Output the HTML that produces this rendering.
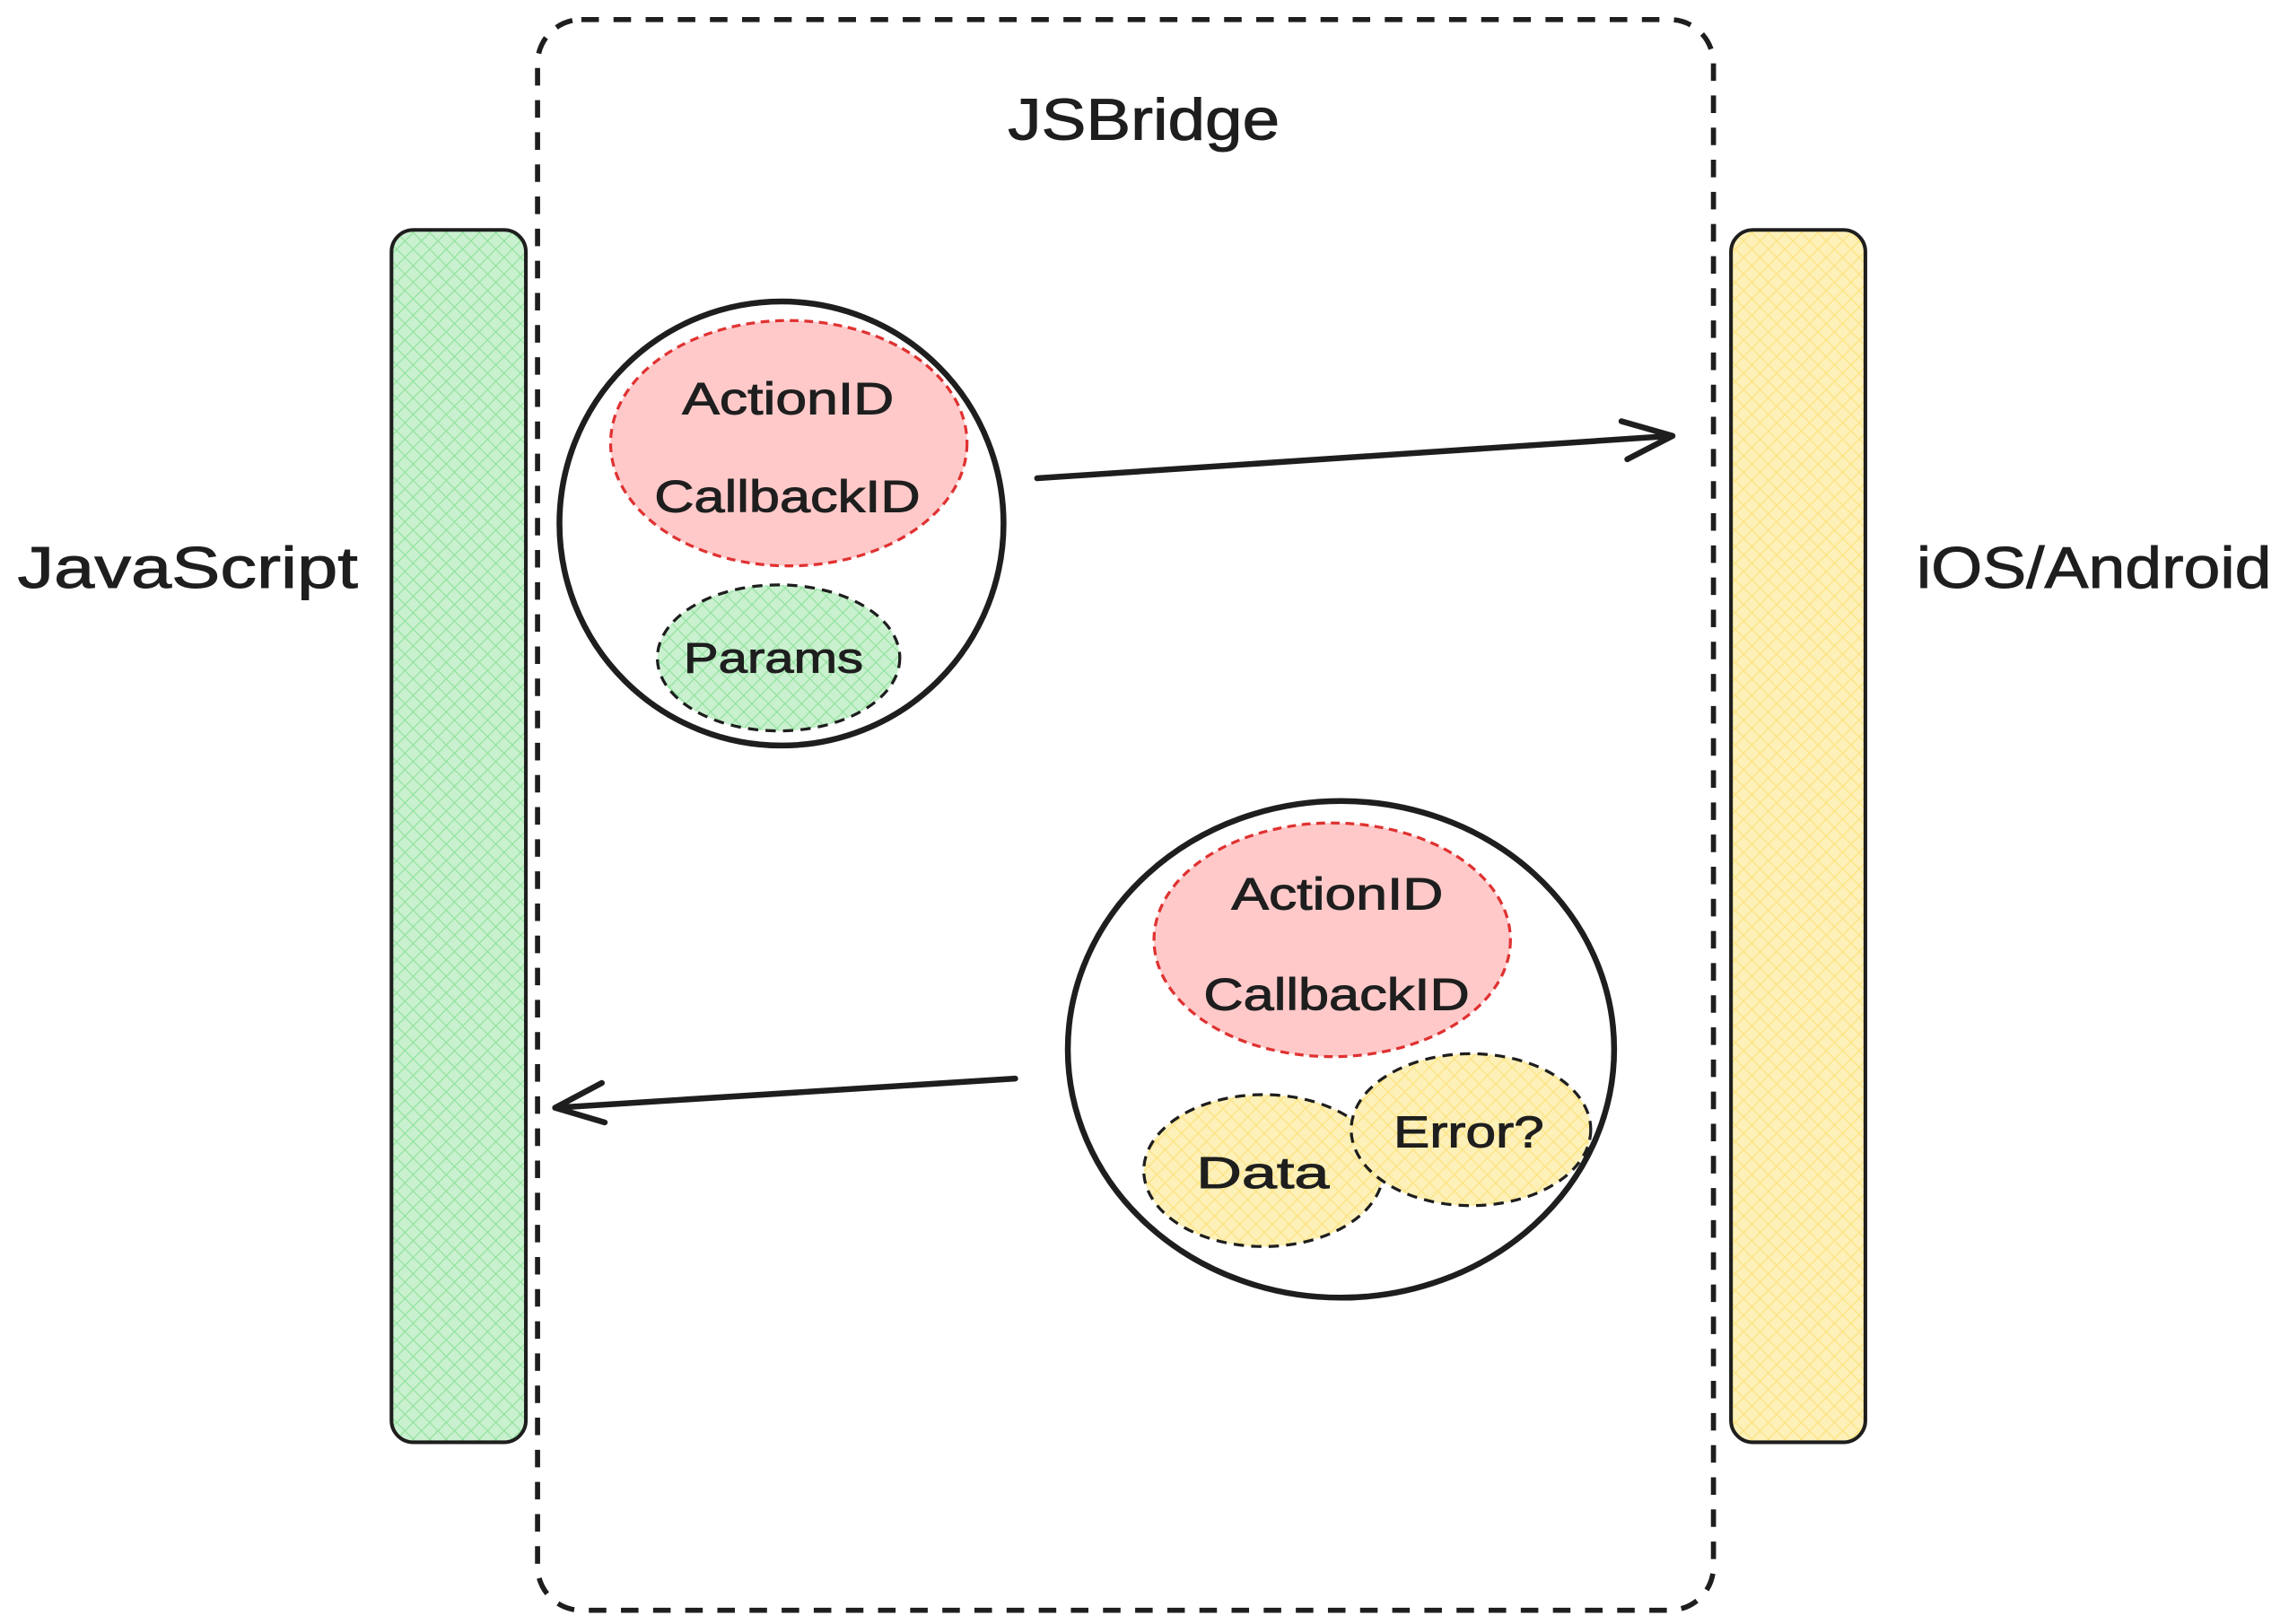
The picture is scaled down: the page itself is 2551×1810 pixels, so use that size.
<!DOCTYPE html>
<html><head><meta charset="utf-8"><style>
html,body{margin:0;padding:0;background:#fff;}
svg{display:block;}
text{font-family:"Liberation Sans","DejaVu Sans",sans-serif;fill:#1e1e1e;stroke:#1e1e1e;stroke-width:0.6;}
</style></head><body>
<svg width="2551" height="1810" viewBox="0 0 1567 1111" xmlns="http://www.w3.org/2000/svg">
<defs>
<pattern id="hg" width="8" height="8" patternUnits="userSpaceOnUse" patternTransform="rotate(45)">
<rect width="8" height="8" fill="#c9f0cf"/><path d="M0 0V8M0 0H8" stroke="#8ee29a" stroke-width="1.4"/></pattern>
<pattern id="hy" width="8" height="8" patternUnits="userSpaceOnUse" patternTransform="rotate(45)">
<rect width="8" height="8" fill="#fdf0b8"/><path d="M0 0V8M0 0H8" stroke="#fde27a" stroke-width="1.4"/></pattern>
</defs>
<rect x="368" y="13" width="805" height="1089" rx="30" fill="none" stroke="#1e1e1e" stroke-width="3.5" stroke-dasharray="12 10"/>
<text x="690" y="95" font-size="40" textLength="186" lengthAdjust="spacingAndGlyphs">JSBridge</text>
<rect x="268" y="157" width="92" height="830" rx="15" fill="url(#hg)" stroke="#1e1e1e" stroke-width="2.5"/>
<rect x="1185" y="157" width="92" height="830" rx="15" fill="url(#hy)" stroke="#1e1e1e" stroke-width="2.5"/>
<text x="12" y="402" font-size="40" textLength="233" lengthAdjust="spacingAndGlyphs">JavaScript</text>
<text x="1312" y="402" font-size="40" textLength="243" lengthAdjust="spacingAndGlyphs">iOS/Android</text>
<ellipse cx="535" cy="358" rx="152" ry="152" fill="#fff" stroke="#1e1e1e" stroke-width="4"/>
<ellipse cx="540" cy="303" rx="122" ry="84" fill="#ffc9c9" stroke="#e03131" stroke-width="2" stroke-dasharray="6 4"/>
<text x="467" y="283" font-size="31" textLength="145" lengthAdjust="spacingAndGlyphs">ActionID</text>
<text x="448" y="350" font-size="31" textLength="182" lengthAdjust="spacingAndGlyphs">CallbackID</text>
<ellipse cx="533" cy="450" rx="83" ry="50" fill="url(#hg)" stroke="#1e1e1e" stroke-width="2" stroke-dasharray="7 5"/>
<text x="468" y="460" font-size="29" textLength="123" lengthAdjust="spacingAndGlyphs">Params</text>
<path d="M710 327L1145 298M1110 288L1145 298L1114 314" fill="none" stroke="#1e1e1e" stroke-width="4" stroke-linecap="round" stroke-linejoin="round"/>
<ellipse cx="918" cy="718" rx="187" ry="170" fill="#fff" stroke="#1e1e1e" stroke-width="4"/>
<ellipse cx="912" cy="643" rx="122" ry="80" fill="#ffc9c9" stroke="#e03131" stroke-width="2" stroke-dasharray="6 4"/>
<text x="843" y="622" font-size="31" textLength="145" lengthAdjust="spacingAndGlyphs">ActionID</text>
<text x="824" y="691" font-size="31" textLength="182" lengthAdjust="spacingAndGlyphs">CallbackID</text>
<ellipse cx="865" cy="801" rx="82" ry="52" fill="url(#hy)" stroke="#1e1e1e" stroke-width="2" stroke-dasharray="7 5"/>
<ellipse cx="1007" cy="773" rx="82" ry="52" fill="url(#hy)" stroke="#1e1e1e" stroke-width="2" stroke-dasharray="7 5"/>
<text x="819" y="813" font-size="30" textLength="91" lengthAdjust="spacingAndGlyphs">Data</text>
<text x="954" y="785" font-size="30" textLength="103" lengthAdjust="spacingAndGlyphs">Error?</text>
<path d="M695 738L380 758M412 741L380 758L414 768" fill="none" stroke="#1e1e1e" stroke-width="4" stroke-linecap="round" stroke-linejoin="round"/>
</svg>
</body></html>
